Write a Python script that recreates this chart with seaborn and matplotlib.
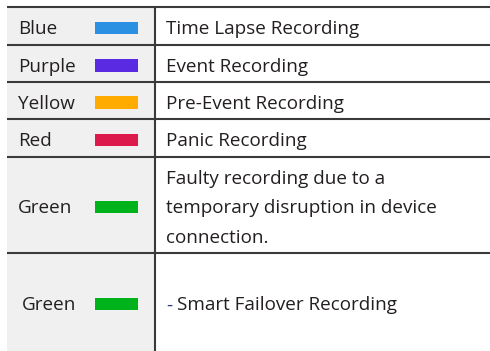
import matplotlib.pyplot as plt
import seaborn as sns
import numpy as np

sns.set_style("white")
plt.rcParams['font.family'] = ['Open Sans', 'DejaVu Sans']

# Table content
color_names = ["Blue", "Purple", "Yellow", "Red", "Green", "Green"]
swatch_colors = ["#2b8fe2", "#5a2ae2", "#ffab00", "#dc1a4c", "#00b31a", "#00b31a"]
descriptions = [
    ["Time Lapse Recording"],
    ["Event Recording"],
    ["Pre-Event Recording"],
    ["Panic Recording"],
    ["Faulty recording due to a", "temporary disruption in device", "connection."],
    ["Smart Failover Recording"],
]

# Layout (pixels)
W, H = 490, 351
row_edges = [7, 45, 82, 119, 157, 253, 351]
left, divider, right = 7, 155, 490
line_col = "#3a3a3a"
text_col = "#231f20"

fig = plt.figure(figsize=(W / 100, H / 100), dpi=100)
ax = fig.add_axes([0, 0, 1, 1])
ax.set_xlim(0, W)
ax.set_ylim(H, 0)
ax.axis('off')

# Grey first column background
ax.add_patch(plt.Rectangle((left, row_edges[0]), divider - left, H - row_edges[0],
                           facecolor="#f0f0f0", edgecolor="none", zorder=0))

centers = np.array([(a + b) / 2 for a, b in zip(row_edges[:-1], row_edges[1:])])
baselines = centers + 8.3

# Colour swatches
ax.barh(baselines - 6.4, 43, left=95, height=12.7, color=swatch_colors,
        edgecolor='none', linewidth=0, zorder=2)

# Grid lines
for y in row_edges[:-1]:
    ax.plot([left, right], [y, y], color=line_col, lw=1.5, zorder=3, solid_capstyle='butt')
ax.plot([divider, divider], [row_edges[0], H], color=line_col, lw=1.5, zorder=3,
        solid_capstyle='butt')

fs = 13.6
for i, (name, desc, by) in enumerate(zip(color_names, descriptions, baselines)):
    x_name = 22 if i == 5 else 18
    ax.text(x_name, by, name, fontsize=fs, va='baseline', ha='left', color=text_col)
    if i == 5:
        ax.text(166, by, "-", fontsize=fs, va='baseline', ha='left', color="#2a3a8a")
        ax.text(176.5, by, desc[0], fontsize=fs, va='baseline', ha='left', color=text_col)
    else:
        n = len(desc)
        for k, line in enumerate(desc):
            ax.text(166, by + (k - (n - 1) / 2) * 29.5, line, fontsize=fs,
                    va='baseline', ha='left', color=text_col)

fig.savefig("out.png", dpi=100)
